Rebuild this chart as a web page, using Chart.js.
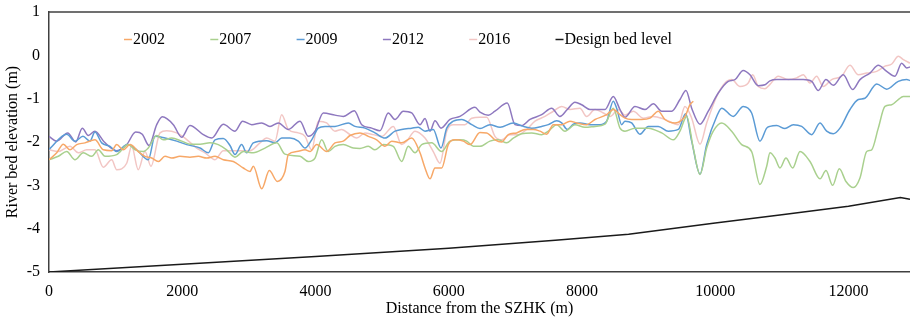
<!DOCTYPE html>
<html>
<head>
<meta charset="utf-8">
<script src="https://cdn.jsdelivr.net/npm/chart.js@4.4.1/dist/chart.umd.min.js"></script>
<style>
  html, body { margin: 0; padding: 0; background: #fff; }
  #wrap { width: 910px; height: 320px; }
</style>
</head>
<body>
<div id="wrap"><canvas id="c" width="910" height="320"></canvas></div>
<script>
// Surveyed river bed profiles: [distance from SZHK (m), elevation (m)]
const years = ['2002', '2007', '2009', '2012', '2016'];

const bed2002 = [[0,-2.41],[116,-2.25],[215,-2.05],[315,-2.18],[416,-2.06],[540,-2.02],[690,-1.95],[815,-2.18],[941,-2.20],[1016,-2.06],[1115,-2.18],[1216,-2.06],[1340,-2.22],[1441,-2.33],[1541,-2.37],[1641,-2.45],[1741,-2.33],[1842,-2.37],[1966,-2.33],[2116,-2.35],[2241,-2.33],[2367,-2.37],[2492,-2.33],[2616,-2.41],[2767,-2.45],[2917,-2.60],[3017,-2.68],[3067,-2.56],[3193,-3.08],[3307,-2.66],[3427,-2.91],[3542,-2.68],[3592,-2.29],[3718,-2.22],[3843,-2.18],[3918,-2.22],[4018,-2.06],[4168,-2.22],[4293,-2.02],[4417,-1.98],[4518,-1.85],[4668,-1.79],[4793,-1.87],[4919,-1.95],[5043,-2.10],[5144,-1.98],[5294,-2.02],[5444,-1.91],[5569,-2.25],[5644,-2.60],[5719,-2.85],[5794,-2.60],[5894,-2.60],[5993,-2.06],[6094,-1.95],[6219,-1.98],[6319,-2.06],[6469,-1.78],[6570,-1.79],[6694,-1.95],[6795,-2.00],[6894,-1.83],[7020,-1.79],[7145,-1.71],[7270,-1.71],[7370,-1.75],[7470,-1.82],[7570,-1.60],[7696,-1.60],[7820,-1.52],[7921,-1.56],[8071,-1.60],[8196,-1.48],[8371,-1.37],[8470,-1.25],[8571,-1.37],[8646,-1.45],[8746,-1.48],[8896,-1.48],[9021,-1.45],[9146,-1.29],[9246,-1.48],[9396,-1.56],[9546,-1.41],[9621,-1.14],[9671,-1.06]];

const bed2007 = [[0,-2.41],[140,-2.33],[266,-2.22],[390,-2.41],[515,-2.25],[641,-2.33],[740,-2.18],[841,-2.33],[1016,-2.29],[1190,-2.06],[1291,-2.18],[1415,-2.22],[1490,-2.14],[1617,-1.85],[1716,-1.95],[1842,-1.91],[1992,-1.98],[2116,-2.05],[2267,-2.05],[2417,-2.02],[2541,-2.06],[2667,-2.18],[2792,-2.35],[2917,-2.22],[3067,-2.25],[3242,-2.14],[3418,-2.02],[3542,-2.28],[3768,-2.33],[3892,-2.45],[3993,-2.37],[4093,-1.95],[4192,-2.22],[4293,-2.10],[4417,-2.06],[4568,-2.14],[4668,-2.15],[4793,-2.10],[4893,-2.18],[5018,-2.06],[5168,-2.10],[5294,-2.45],[5393,-2.10],[5494,-2.25],[5594,-2.06],[5744,-2.02],[5894,-2.22],[6019,-1.98],[6169,-1.95],[6270,-1.98],[6369,-2.10],[6469,-2.10],[6619,-1.98],[6744,-1.95],[6870,-2.02],[6969,-1.91],[7095,-1.81],[7245,-1.79],[7395,-1.83],[7495,-1.75],[7621,-1.60],[7745,-1.75],[7895,-1.60],[8045,-1.66],[8196,-1.64],[8346,-1.59],[8470,-1.22],[8571,-1.68],[8646,-1.75],[8796,-1.68],[8996,-1.68],[9197,-1.79],[9371,-1.95],[9471,-1.75],[9572,-1.41],[9671,-2.14],[9772,-2.75],[9872,-2.14],[9971,-1.75],[10097,-1.56],[10247,-1.75],[10397,-2.06],[10547,-2.22],[10672,-2.98],[10773,-2.56],[10822,-2.25],[10897,-2.37],[10972,-2.60],[11062,-2.37],[11163,-2.60],[11273,-2.22],[11423,-2.45],[11573,-2.85],[11663,-2.66],[11763,-3.00],[11863,-2.62],[11963,-2.91],[12072,-3.05],[12173,-2.83],[12274,-2.22],[12349,-2.18],[12448,-1.68],[12548,-1.18],[12649,-1.14],[12748,-1.02],[12823,-0.95],[12924,-0.95]];

const bed2009 = [[0,-2.17],[266,-1.82],[390,-1.98],[510,-1.87],[615,-1.98],[690,-1.77],[791,-2.02],[916,-2.10],[1016,-2.22],[1175,-2.06],[1316,-2.18],[1490,-2.41],[1591,-1.87],[1741,-1.91],[1917,-1.98],[2067,-2.06],[2267,-2.14],[2391,-2.25],[2492,-1.95],[2616,-1.92],[2717,-2.08],[2792,-2.29],[2892,-2.06],[2967,-2.25],[3067,-2.02],[3268,-1.97],[3392,-2.02],[3493,-1.91],[3617,-1.91],[3742,-1.98],[3843,-2.14],[3943,-1.95],[4042,-1.68],[4143,-1.64],[4293,-1.64],[4493,-1.56],[4593,-1.64],[4743,-1.68],[4893,-1.79],[5043,-1.91],[5193,-1.75],[5294,-1.71],[5444,-1.68],[5543,-1.66],[5644,-1.75],[5768,-1.71],[5884,-2.14],[5970,-1.68],[6069,-1.52],[6195,-1.48],[6345,-1.60],[6469,-1.69],[6619,-1.60],[6770,-1.66],[6969,-1.56],[7119,-1.64],[7245,-1.68],[7395,-1.64],[7495,-1.60],[7621,-1.51],[7696,-1.56],[7780,-1.71],[7870,-1.59],[7970,-1.56],[8120,-1.60],[8270,-1.60],[8371,-1.52],[8470,-1.06],[8521,-1.22],[8596,-1.60],[8646,-1.52],[8746,-1.56],[8871,-1.82],[8996,-1.64],[9146,-1.64],[9296,-1.75],[9446,-1.71],[9557,-1.35],[9647,-1.98],[9772,-2.74],[9872,-2.06],[10022,-1.41],[10097,-1.22],[10271,-1.41],[10421,-1.18],[10547,-1.33],[10672,-1.98],[10773,-1.68],[10822,-1.64],[10923,-1.62],[11047,-1.69],[11172,-1.60],[11298,-1.64],[11448,-1.83],[11573,-1.56],[11673,-1.75],[11772,-1.81],[11873,-1.68],[12023,-1.25],[12148,-1.02],[12248,-0.99],[12424,-0.66],[12574,-0.78],[12748,-0.60],[12874,-0.56],[12924,-0.58]];

const bed2012 = [[0,-1.87],[116,-1.98],[281,-1.79],[401,-2.00],[500,-1.68],[590,-1.85],[690,-1.75],[830,-2.00],[1016,-2.20],[1166,-2.06],[1301,-1.77],[1400,-1.82],[1501,-2.08],[1617,-1.60],[1701,-1.42],[1866,-1.60],[1992,-1.89],[2116,-1.62],[2316,-1.83],[2442,-1.91],[2616,-1.59],[2792,-1.75],[2907,-1.52],[3043,-1.60],[3193,-1.56],[3317,-1.64],[3442,-1.56],[3592,-1.71],[3768,-1.52],[3892,-1.87],[3993,-1.75],[4117,-1.33],[4293,-1.38],[4417,-1.41],[4583,-1.28],[4694,-1.60],[4844,-1.68],[4968,-1.74],[5093,-1.33],[5193,-1.48],[5318,-1.29],[5444,-1.33],[5569,-1.60],[5644,-1.46],[5719,-1.75],[5794,-1.51],[5884,-1.68],[6019,-1.48],[6169,-1.41],[6394,-1.20],[6469,-1.31],[6594,-1.38],[6694,-1.29],[6879,-1.10],[6995,-1.60],[7095,-1.62],[7220,-1.48],[7395,-1.37],[7545,-1.22],[7670,-1.41],[7780,-1.25],[7895,-1.08],[7996,-1.14],[8120,-1.25],[8346,-1.25],[8470,-0.95],[8571,-1.25],[8646,-1.43],[8796,-1.18],[8946,-1.25],[9071,-1.12],[9197,-1.29],[9347,-1.29],[9471,-1.02],[9561,-0.81],[9647,-1.22],[9772,-1.59],[9896,-1.29],[10046,-0.87],[10196,-0.60],[10297,-0.56],[10421,-0.35],[10522,-0.45],[10646,-0.70],[10747,-0.68],[10822,-0.59],[10923,-0.56],[11122,-0.56],[11322,-0.56],[11448,-0.60],[11547,-0.81],[11663,-0.56],[11772,-0.69],[11922,-0.45],[12064,-0.79],[12173,-0.56],[12323,-0.41],[12448,-0.23],[12574,-0.37],[12698,-0.48],[12799,-0.18],[12874,-0.29],[12924,-0.27]];

const bed2016 = [[0,-2.18],[140,-2.22],[315,-2.10],[440,-2.25],[566,-2.18],[690,-2.18],[815,-2.58],[941,-2.41],[1016,-2.64],[1166,-2.49],[1241,-2.10],[1340,-2.64],[1441,-2.22],[1531,-2.56],[1666,-1.79],[1767,-1.74],[1917,-1.79],[2041,-1.91],[2217,-2.14],[2342,-2.25],[2492,-2.41],[2616,-2.20],[2817,-2.20],[3017,-2.20],[3167,-2.02],[3268,-1.91],[3392,-1.98],[3493,-1.37],[3592,-1.71],[3742,-1.79],[3843,-1.87],[3943,-2.18],[4042,-1.52],[4168,-1.56],[4293,-1.75],[4393,-1.71],[4518,-1.83],[4619,-1.91],[4743,-1.79],[4868,-1.83],[4994,-1.87],[5168,-1.64],[5294,-2.06],[5369,-1.98],[5494,-1.75],[5644,-1.91],[5768,-2.22],[5869,-2.49],[5970,-1.75],[6069,-1.60],[6245,-1.60],[6345,-1.45],[6469,-1.43],[6570,-1.43],[6694,-1.87],[6795,-1.95],[6919,-1.83],[7044,-1.83],[7170,-1.71],[7295,-1.52],[7445,-1.41],[7570,-1.29],[7696,-1.18],[7820,-1.25],[7970,-1.22],[8070,-1.41],[8196,-1.25],[8320,-1.33],[8421,-1.41],[8546,-1.25],[8646,-1.38],[8771,-1.29],[8921,-1.45],[9071,-1.41],[9246,-1.48],[9446,-1.60],[9546,-1.18],[9647,-1.45],[9772,-2.05],[9872,-1.56],[10022,-0.95],[10147,-0.64],[10247,-0.56],[10372,-0.72],[10496,-0.64],[10562,-0.45],[10646,-0.72],[10747,-0.77],[10822,-0.67],[10947,-0.48],[11097,-0.56],[11223,-0.52],[11322,-0.45],[11423,-0.64],[11523,-0.48],[11622,-0.72],[11748,-0.56],[11898,-0.48],[12023,-0.23],[12148,-0.45],[12274,-0.41],[12424,-0.37],[12549,-0.25],[12650,-0.20],[12749,-0.02],[12824,-0.10],[12924,-0.18]];

const designBed = [[0,-5.00],[2000,-4.82],[4000,-4.64],[6000,-4.45],[7600,-4.27],[8700,-4.13],[10000,-3.87],[11000,-3.68],[12000,-3.48],[12780,-3.28],[12924,-3.32]];

const xTicks = [0, 2000, 4000, 6000, 8000, 10000, 12000];
const yTicks = [1, 0, -1, -2, -3, -4, -5];

const seriesColors = ['#F7A868', '#A9D08E', '#5B9BD5', '#8E78BF', '#F2C6C4'];
const profiles = [bed2002, bed2007, bed2009, bed2012, bed2016];

const toPoints = arr => arr.map(p => ({ x: p[0], y: p[1] }));

const datasets = profiles.map((arr, i) => ({
  label: years[i],
  data: toPoints(arr),
  borderColor: seriesColors[i],
  borderWidth: 1.5,
  pointRadius: 0,
  fill: false,
  cubicInterpolationMode: 'monotone'
}));
datasets.push({
  label: 'Design bed level',
  data: toPoints(designBed),
  borderColor: '#1a1a1a',
  borderWidth: 1.5,
  pointRadius: 0,
  fill: false,
  tension: 0
});

const FONT = 'Liberation Serif';

// Frame line along the top of the plot and the in-plot legend row
const frameAndLegend = {
  id: 'frameAndLegend',
  afterDraw(chart) {
    const { ctx, chartArea } = chart;
    ctx.save();
    ctx.strokeStyle = '#404040';
    ctx.lineWidth = 1.5;
    ctx.beginPath();
    ctx.moveTo(chartArea.left, chartArea.top);
    ctx.lineTo(chartArea.right, chartArea.top);
    ctx.stroke();

    ctx.font = '16px "' + FONT + '"';
    ctx.textBaseline = 'middle';
    ctx.textAlign = 'left';
    let x = chartArea.left + 75;
    const y = chartArea.top + 27.5;
    chart.data.datasets.forEach(ds => {
      ctx.strokeStyle = ds.borderColor;
      ctx.lineWidth = 1.5;
      ctx.beginPath();
      ctx.moveTo(x, y);
      ctx.lineTo(x + 8, y);
      ctx.stroke();
      ctx.fillStyle = '#000';
      ctx.fillText(ds.label, x + 9, y);
      x += 86.3;
    });
    ctx.restore();
  }
};

new Chart(document.getElementById('c'), {
  type: 'line',
  data: { datasets },
  plugins: [frameAndLegend],
  options: {
    responsive: false,
    animation: false,
    devicePixelRatio: 1,
    layout: { padding: { top: 12, right: 0, left: 0, bottom: 0 } },
    plugins: { legend: { display: false }, tooltip: { enabled: false } },
    scales: {
      x: {
        type: 'linear',
        min: 0,
        max: 12924,
        grid: { display: false, drawTicks: false },
        border: { display: true, color: '#404040', width: 1.5 },
        afterBuildTicks: s => { s.ticks = xTicks.map(v => ({ value: v })); },
        ticks: {
          padding: 10,
          color: '#000',
          font: { family: FONT, size: 16 },
          maxRotation: 0,
          callback: v => String(v)
        },
        title: {
          display: true,
          text: 'Distance from the SZHK (m)',
          color: '#000',
          font: { family: FONT, size: 16 },
          padding: { top: 2, bottom: 2 }
        },
        afterFit: s => { s.height = 48; s.paddingLeft = 0; s.paddingRight = 0; }
      },
      y: {
        type: 'linear',
        min: -5,
        max: 1,
        grid: { display: false, drawTicks: false },
        border: { display: true, color: '#404040', width: 1.5 },
        afterBuildTicks: s => { s.ticks = yTicks.map(v => ({ value: v })); },
        ticks: {
          padding: 9,
          color: '#000',
          font: { family: FONT, size: 16 },
          callback: v => String(v)
        },
        title: {
          display: true,
          text: 'River bed elevation (m)',
          color: '#000',
          font: { family: FONT, size: 16 },
          padding: { top: 3, bottom: 4 }
        },
        afterFit: s => { s.width = 49; s.paddingTop = 0; s.paddingBottom = 0; }
      }
    }
  }
});
</script>
</body>
</html>
